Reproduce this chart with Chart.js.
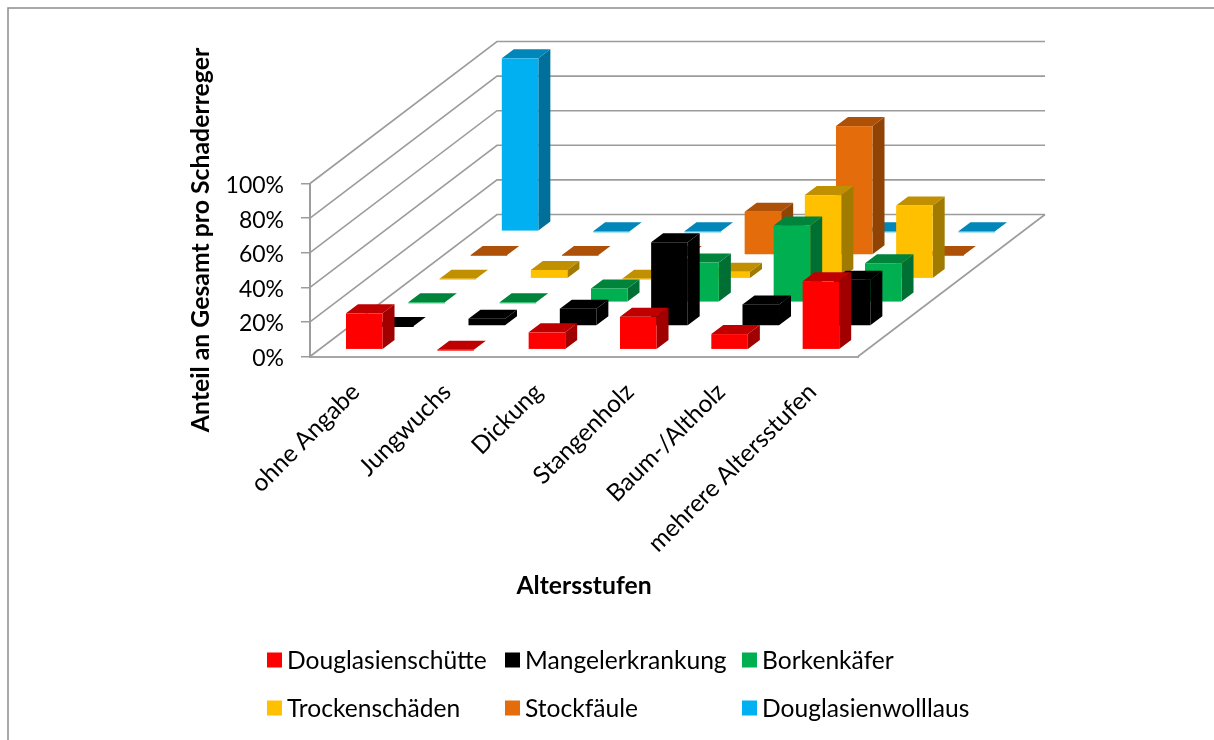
<!DOCTYPE html>
<html lang="de">
<head>
<meta charset="utf-8">
<title>Schaderreger nach Altersstufen</title>
<style>
  html, body { margin: 0; padding: 0; background: #fff; }
  canvas { display: block; }
</style>
<script src="https://cdn.jsdelivr.net/npm/chart.js@4"></script>
</head>
<body>
<canvas id="chart" width="1214" height="740"></canvas>
<script>
const categories = ['ohne Angabe', 'Jungwuchs', 'Dickung', 'Stangenholz', 'Baum-/Altholz', 'mehrere Altersstufen'];

const douglasienschuette = [21, 0, 10, 19, 9, 39.5];
const mangelerkrankung   = [0, 4.2, 10, 48.4, 12.5, 26.8];
const borkenkaefer       = [0, 0, 8, 23, 44.4, 22.6];
const trockenschaeden    = [0, 5, 0, 4, 48.3, 42.3];
const stockfaeule        = [0, 0, 0, 25, 74.5, 0];
const wolllaus           = [100, 0, 0, 0, 0, 0];

const yTicks = [0, 20, 40, 60, 80, 100];

const FONT = 'Lato, sans-serif';
const WALL = '#9c9c9c';

// Oblique projection: the whole floor depth and the depth of one box.
const floorDepth = { x: 187, y: 142 };
const boxDepth = { x: 12, y: 9 };

const shades = [
  { front: '#ff0000', top: '#bf0000', side: '#a00000' },
  { front: '#000000', top: '#000000', side: '#000000' },
  { front: '#00b050', top: '#00843c', side: '#006f33' },
  { front: '#ffc000', top: '#c09000', side: '#a07b00' },
  { front: '#e46c0a', top: '#ad5108', side: '#8f4406' },
  { front: '#00b0f0', top: '#0086b8', side: '#006f99' }
];

function poly(ctx, color, pts) {
  ctx.fillStyle = color;
  ctx.beginPath();
  pts.forEach((p, i) => (i ? ctx.lineTo(p[0], p[1]) : ctx.moveTo(p[0], p[1])));
  ctx.closePath();
  ctx.fill();
}

// Turns each flat library bar into a box, pushed back along the depth axis by its series index.
const boxes = {
  id: 'boxes',
  beforeDatasetDraw(chart, args) {
    const ctx = chart.ctx;
    const colors = shades[args.index];
    const slotX = floorDepth.x / chart.data.datasets.length;
    const slotY = floorDepth.y / chart.data.datasets.length;
    const dx = slotX * args.index + (slotX - boxDepth.x) / 2 - 1;
    const dy = slotY * args.index + (slotY - boxDepth.y) / 2 - 0.5;
    ctx.save();
    args.meta.data.forEach((bar) => {
      const l = bar.x - bar.width / 2 + dx;
      const r = l + bar.width;
      const t = bar.y - dy;
      const b = bar.base - dy;
      const ox = boxDepth.x, oy = boxDepth.y;
      poly(ctx, colors.side, [[r, t], [r + ox, t - oy], [r + ox, b - oy], [r, b]]);
      poly(ctx, colors.top, [[l, t], [l + ox, t - oy], [r + ox, t - oy], [r, t]]);
      ctx.fillStyle = colors.front;
      ctx.fillRect(l, t, bar.width, Math.max(b - t, 1));
    });
    ctx.restore();
    return false;
  }
};

// Side wall, back wall and floor behind the boxes, with the frame and the wall grid.
const walls = {
  id: 'walls',
  beforeDatasetsDraw(chart) {
    const { ctx, chartArea: a, scales: { y } } = chart;
    ctx.save();
    ctx.strokeStyle = '#8c8c8c';
    ctx.lineWidth = 1.5;
    ctx.beginPath();
    ctx.moveTo(8, 740);
    ctx.lineTo(8, 8);
    ctx.lineTo(1214, 8);
    ctx.stroke();

    ctx.strokeStyle = WALL;
    ctx.lineWidth = 1.6;
    yTicks.forEach((v) => {
      const py = y.getPixelForValue(v);
      ctx.beginPath();
      ctx.moveTo(a.left, py);
      ctx.lineTo(a.left + floorDepth.x, py - floorDepth.y);
      ctx.lineTo(a.right + floorDepth.x, py - floorDepth.y);
      ctx.stroke();
    });
    ctx.beginPath();
    ctx.moveTo(a.right, a.bottom);
    ctx.lineTo(a.right + floorDepth.x, a.bottom - floorDepth.y);
    ctx.stroke();
    ctx.restore();
  }
};

// Vertical axis caption and the two-row legend.
const captions = {
  id: 'captions',
  afterDraw(chart) {
    const ctx = chart.ctx;
    ctx.save();
    ctx.fillStyle = '#000';
    ctx.textBaseline = 'middle';

    ctx.save();
    ctx.translate(201, 240);
    ctx.rotate(-Math.PI / 2);
    ctx.textAlign = 'center';
    ctx.font = 'bold 24.8px ' + FONT;
    ctx.fillText('Anteil an Gesamt pro Schaderreger', 0, 0);
    ctx.restore();

    const columns = [267, 505, 742];
    const rows = [660, 708];
    ctx.textAlign = 'left';
    ctx.font = '24.6px ' + FONT;
    chart.data.datasets.forEach((ds, i) => {
      const x = columns[i % 3];
      const yy = rows[Math.floor(i / 3)];
      ctx.fillStyle = ds.backgroundColor;
      ctx.fillRect(x, yy - 7.5, 15, 15);
      ctx.fillStyle = '#000';
      ctx.fillText(ds.label, x + 20, yy + 1);
    });
    ctx.restore();
  }
};

const series = [
  ['Douglasienschütte', douglasienschuette],
  ['Mangelerkrankung', mangelerkrankung],
  ['Borkenkäfer', borkenkaefer],
  ['Trockenschäden', trockenschaeden],
  ['Stockfäule', stockfaeule],
  ['Douglasienwolllaus', wolllaus]
];

new Chart(document.getElementById('chart'), {
  type: 'bar',
  data: {
    labels: categories,
    datasets: series.map(([label, data], i) => ({
      label,
      data,
      backgroundColor: shades[i].front,
      grouped: false,
      categoryPercentage: 1,
      barPercentage: 0.4
    }))
  },
  plugins: [walls, boxes, captions],
  options: {
    responsive: false,
    animation: false,
    events: [],
    layout: { padding: { left: 0, top: 183.5, right: 356, bottom: 139.5 } },
    plugins: { legend: { display: false }, tooltip: { enabled: false } },
    scales: {
      x: {
        afterFit(scale) { scale.height = 244; },
        grid: { display: false, drawTicks: false },
        border: { color: '#a6a6a6', width: 2 },
        ticks: {
          minRotation: 45, maxRotation: 45, autoSkip: false, padding: 21,
          color: '#000', font: { family: FONT, size: 24.4 }
        },
        title: {
          display: true, text: 'Altersstufen', color: '#000',
          font: { family: FONT, size: 24.7, weight: 'bold' },
          padding: { top: 0, bottom: 0 }
        }
      },
      y: {
        afterFit(scale) { scale.width = 310; },
        min: 0,
        max: 100,
        afterBuildTicks(scale) { scale.ticks = yTicks.map((value) => ({ value })); },
        grid: { drawOnChartArea: false, tickLength: 9, color: WALL, lineWidth: 1.5 },
        border: { color: WALL, width: 2 },
        ticks: {
          padding: 17, labelOffset: 2, color: '#000', font: { family: FONT, size: 23 },
          callback: (v) => v + '%'
        }
      }
    }
  }
});
</script>
</body>
</html>
